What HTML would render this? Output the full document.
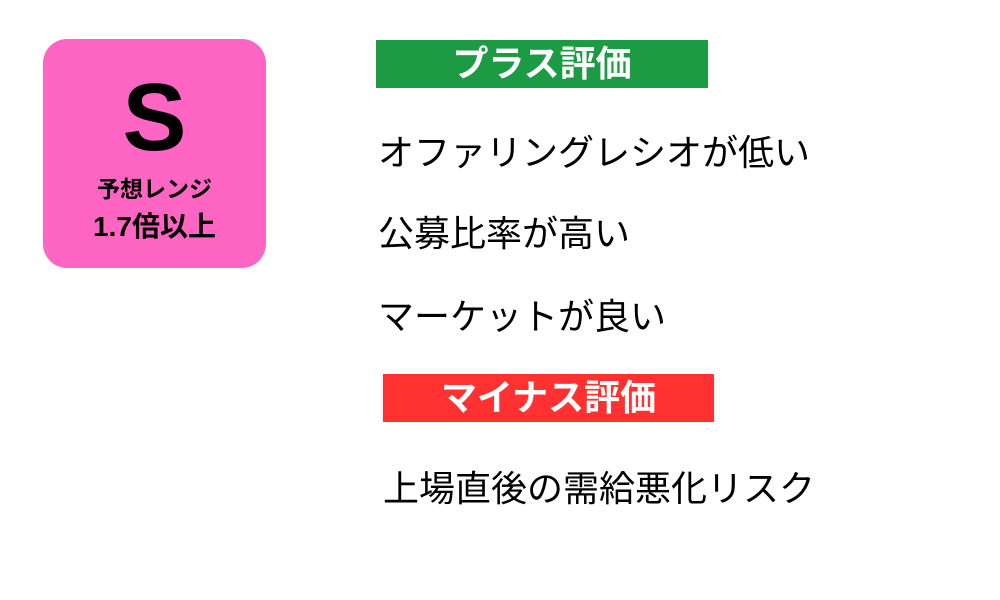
<!DOCTYPE html>
<html><head><meta charset="utf-8"><style>
body{margin:0;width:1000px;height:600px;background:#fff;position:relative;overflow:hidden;font-family:"Liberation Sans","Noto Sans CJK JP",sans-serif;}
.a{position:absolute;white-space:nowrap;}
.box{left:43px;top:39px;width:223px;height:229px;background:#ff66c4;border-radius:24px;}
.bar{height:48px;color:#fff;font-weight:bold;font-size:36px;text-align:center;line-height:48px;}
.t{font-size:36px;color:#000;line-height:40px;}
</style></head><body>
<div class="a box"></div>
<div class="a" style="left:43px;width:223px;top:62px;text-align:center;font-size:96px;font-weight:bold;line-height:112px;">S</div>
<div class="a" style="left:43px;width:223px;top:174px;text-align:center;font-size:23px;font-weight:bold;line-height:30px;">予想レンジ</div>
<div class="a" style="left:43px;width:223px;top:209px;text-align:center;font-size:28px;font-weight:bold;line-height:36px;">1.7倍以上</div>
<div class="a bar" style="left:376px;top:40px;width:332px;background:#1c9a44;">プラス評価</div>
<div class="a t" style="left:378px;top:133px;">オファリングレシオが低い</div>
<div class="a t" style="left:378px;top:214px;">公募比率が高い</div>
<div class="a t" style="left:378px;top:297px;">マーケットが良い</div>
<div class="a bar" style="left:383px;top:374px;width:331px;background:#ff3131;">マイナス評価</div>
<div class="a t" style="left:383px;top:469px;">上場直後の需給悪化リスク</div>
</body></html>
